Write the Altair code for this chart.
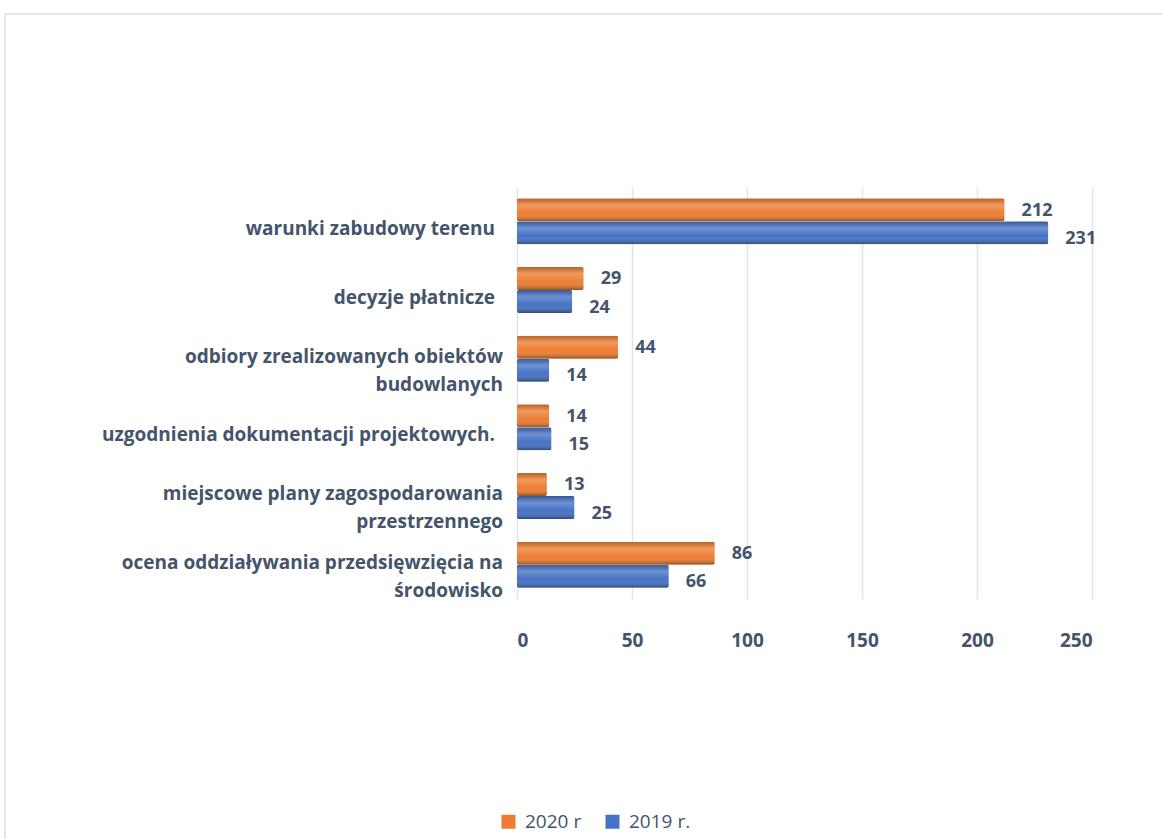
import altair as alt
import pandas as pd

categories = [
    "warunki zabudowy terenu ",
    "decyzje płatnicze ",
    "odbiory zrealizowanych obiektów\nbudowlanych",
    "uzgodnienia dokumentacji projektowych.",
    "miejscowe plany zagospodarowania\nprzestrzennego",
    "ocena oddziaływania przedsięwzięcia na\nśrodowisko",
]
values_2020 = [212, 29, 44, 14, 13, 86]
values_2019 = [231, 24, 14, 15, 25, 66]
series = ["2020 r", "2019 r."]
colors = ["#ED7D31", "#4472C4"]
x_ticks = [0, 50, 100, 150, 200, 250]

rows = []
for c, a, b in zip(categories, values_2020, values_2019):
    rows.append({"cat": c, "series": series[0], "value": a})
    rows.append({"cat": c, "series": series[1], "value": b})
df = pd.DataFrame(rows)
cat_df = pd.DataFrame({"cat": categories})

TXT = "#44546A"
FONT = "Open Sans"

y_enc = alt.Y("cat:N", sort=categories, axis=None,
              scale=alt.Scale(paddingInner=0.33, paddingOuter=0.165))
yoff = alt.YOffset("series:N", sort=series)

base = alt.Chart(df)

bars = base.mark_bar(cornerRadius=2).encode(
    y=y_enc,
    yOffset=yoff,
    x=alt.X("value:Q",
            scale=alt.Scale(domain=[0, 250], nice=False),
            axis=alt.Axis(values=x_ticks, title=None, domain=False, ticks=False,
                          grid=True, gridColor="#E1E4EA", gridWidth=1.5,
                          labelFont=FONT, labelFontSize=19, labelFontWeight="bold",
                          labelColor=TXT, labelPadding=32)),
    color=alt.Color("series:N", sort=series,
                    scale=alt.Scale(domain=series, range=colors),
                    legend=alt.Legend(title=None, orient="none", direction="horizontal",
                                      legendX=-18, legendY=625, symbolType="square",
                                      symbolSize=196, symbolStrokeWidth=0,
                                      labelFont=FONT, labelFontSize=19,
                                      labelColor=TXT, columnPadding=21, labelOffset=7,
                                      symbolOpacity=1)),
)

shade = base.mark_bar(
    cornerRadius=2,
    fill=alt.Gradient(
        gradient="linear", x1=0, y1=0, x2=0, y2=1,
        stops=[
            alt.GradientStop(offset=0, color="rgba(0,0,0,0.22)"),
            alt.GradientStop(offset=0.3, color="rgba(255,255,255,0.22)"),
            alt.GradientStop(offset=0.65, color="rgba(255,255,255,0.0)"),
            alt.GradientStop(offset=1, color="rgba(0,0,0,0.38)"),
        ],
    ),
).encode(y=y_enc, yOffset=yoff, x=alt.X("value:Q"))

vl_style = dict(align="left", baseline="middle", dx=17,
                font=FONT, fontSize=18, fontWeight="bold", color=TXT)

labels_2020 = base.transform_filter(
    alt.datum.series == series[0]
).mark_text(dy=1, **vl_style).encode(
    y=y_enc, yOffset=yoff, x=alt.X("value:Q"), text=alt.Text("value:Q"))

labels_2019 = base.transform_filter(
    alt.datum.series == series[1]
).mark_text(dy=6, **vl_style).encode(
    y=y_enc, yOffset=yoff, x=alt.X("value:Q"), text=alt.Text("value:Q"))

label_style = dict(align="right", baseline="middle", lineBreak="\n", lineHeight=28,
                   font=FONT, fontSize=19, fontWeight="bold", color=TXT)

single_labels = alt.Chart(cat_df).transform_filter(
    "indexof(datum.cat, '\\n') < 0"
).mark_text(dy=8, **label_style).encode(
    y=alt.Y("cat:N", sort=categories), x=alt.value(-22), text="cat:N")

multi_labels = alt.Chart(cat_df).transform_filter(
    "indexof(datum.cat, '\\n') >= 0"
).mark_text(dy=-2, **label_style).encode(
    y=alt.Y("cat:N", sort=categories), x=alt.value(-14), text="cat:N")

frame = alt.Chart(pd.DataFrame({"a": [0]})).mark_rect(
    fill="transparent", stroke="#DCE0E6", strokeWidth=1.5,
).encode(x=alt.value(-512), x2=alt.value(680), y=alt.value(-173), y2=alt.value(700))

chart = alt.layer(frame, bars, shade, labels_2020, labels_2019,
                  single_labels, multi_labels).properties(
    width=575, height=412,
    autosize=alt.AutoSizeParams(type="none"),
    padding={"left": 517, "top": 187, "right": 71, "bottom": 240},
).configure(background="white").configure_view(stroke=None)

chart.save("out.html", embed_options={"renderer": "svg", "actions": False})
